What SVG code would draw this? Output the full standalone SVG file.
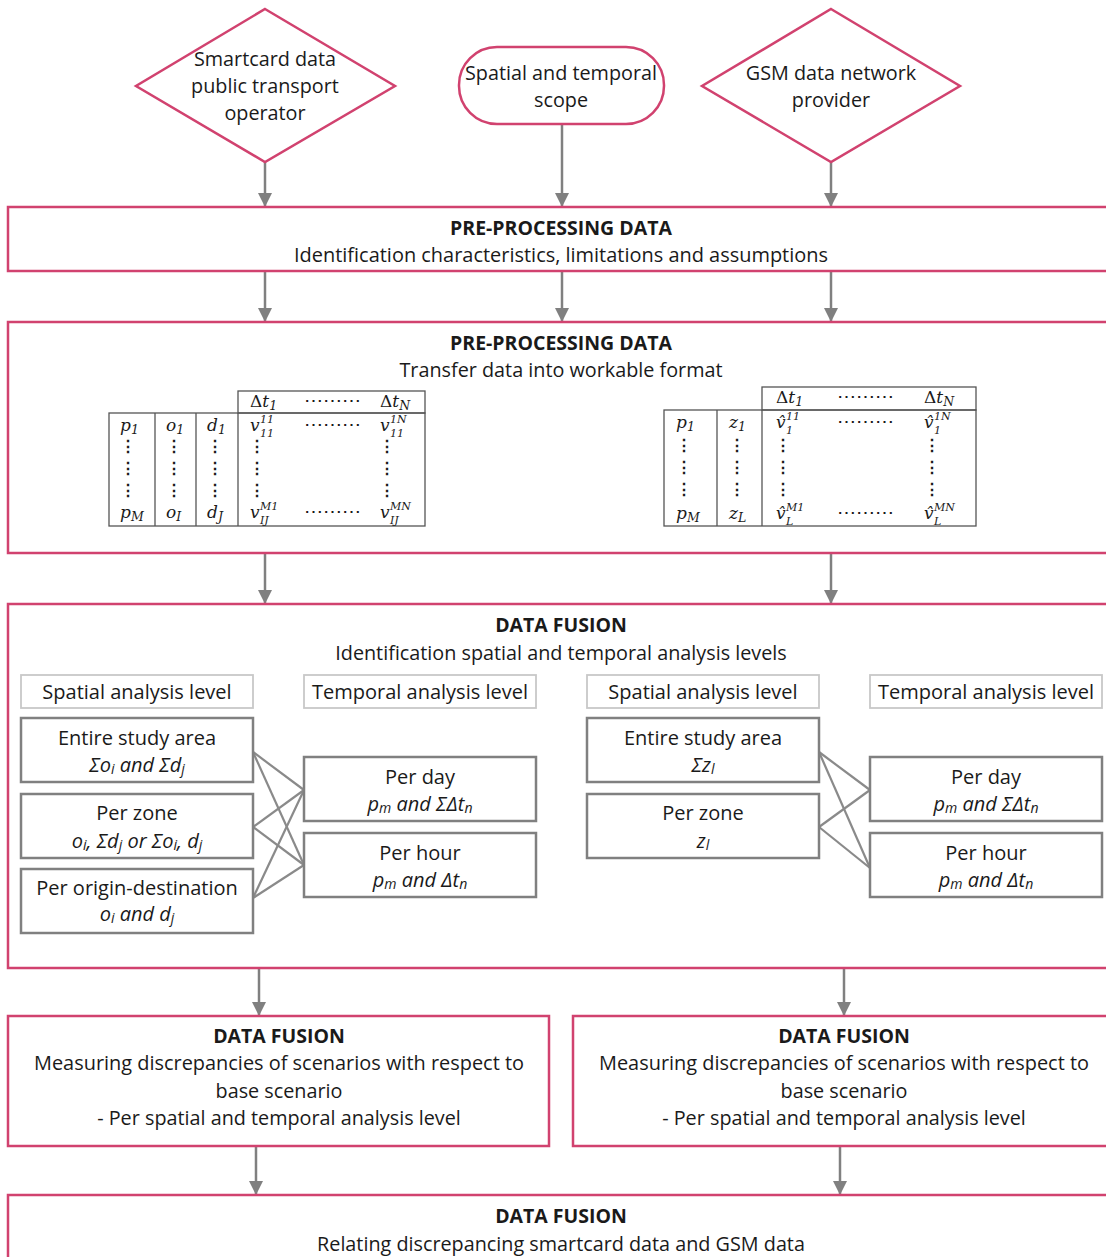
<svg xmlns="http://www.w3.org/2000/svg" width="1106" height="1257" viewBox="0 0 1106 1257">
<defs>
<marker id="ah" viewBox="0 0 14 14" refX="14" refY="7" markerWidth="14" markerHeight="14" markerUnits="userSpaceOnUse" orient="auto">
<path d="M0,0 L14,7 L0,14 z" fill="#808080"/>
</marker>
<style>
.pk{fill:#fff;stroke:#d1426f;stroke-width:2.5}
.gb{fill:#fff;stroke:#808080;stroke-width:2.5}
.hb{fill:#fff;stroke:#c8c8c8;stroke-width:1.8}
.ar{stroke:#808080;stroke-width:2.5;fill:none}
.cn{stroke:#8a8a8a;stroke-width:2.2;fill:none}
.tl{stroke:#555;stroke-width:1.3;fill:none}
text{font-family:"Open Sans","Noto Sans","Liberation Sans",sans-serif;fill:#1a1a1a;text-anchor:middle;dominant-baseline:central}
.t{font-size:19.8px}
.b{font-size:19.5px;font-weight:bold}
.i{font-size:20px;font-style:italic}
.sm{font-size:20px}
.m{font-family:"DejaVu Serif","Liberation Serif",serif;font-size:17px;font-style:italic;text-anchor:start;dominant-baseline:auto}
.d{font-family:"DejaVu Serif","Liberation Serif",serif;font-size:16px;font-weight:bold;text-anchor:start;dominant-baseline:auto}
.h{font-family:"DejaVu Serif","Liberation Serif",serif;font-size:19px;text-anchor:start;dominant-baseline:auto}
.s{font-size:12.5px}
.ss{font-size:11px}
.si{font-size:14px}
</style>
</defs>

<g id="connectors">
<line class="ar" x1="265" y1="162" x2="265" y2="207" marker-end="url(#ah)"/>
<line class="ar" x1="562" y1="124" x2="562" y2="207" marker-end="url(#ah)"/>
<line class="ar" x1="831" y1="162" x2="831" y2="207" marker-end="url(#ah)"/>
<line class="ar" x1="265" y1="272" x2="265" y2="322" marker-end="url(#ah)"/>
<line class="ar" x1="562" y1="272" x2="562" y2="322" marker-end="url(#ah)"/>
<line class="ar" x1="831" y1="272" x2="831" y2="322" marker-end="url(#ah)"/>
<line class="ar" x1="265" y1="554" x2="265" y2="604" marker-end="url(#ah)"/>
<line class="ar" x1="831" y1="554" x2="831" y2="604" marker-end="url(#ah)"/>
<line class="ar" x1="259" y1="969" x2="259" y2="1016" marker-end="url(#ah)"/>
<line class="ar" x1="844" y1="969" x2="844" y2="1016" marker-end="url(#ah)"/>
<line class="ar" x1="256" y1="1147" x2="256" y2="1195" marker-end="url(#ah)"/>
<line class="ar" x1="840" y1="1147" x2="840" y2="1195" marker-end="url(#ah)"/>
</g>

<g id="n-smartcard">
<polygon class="pk" points="265,9 395,86 265,162 136,86"/>
<text class="t" x="265" y="58">Smartcard data</text>
<text class="t" x="265" y="85">public transport</text>
<text class="t" x="265" y="112">operator</text>
</g>
<g id="n-scope">
<rect class="pk" x="459" y="47" width="205" height="77" rx="38"/>
<text class="t" x="561" y="72">Spatial and temporal</text>
<text class="t" x="561" y="99">scope</text>
</g>
<g id="n-gsm">
<polygon class="pk" points="831,9 960,86 831,162 702,86"/>
<text class="t" x="831" y="72">GSM data network</text>
<text class="t" x="831" y="99">provider</text>
</g>

<g id="n-pre1">
<rect class="pk" x="8" y="207" width="1110" height="64"/>
<text class="b" x="561" y="227">PRE-PROCESSING DATA</text>
<text class="t" x="561" y="254" textLength="534" lengthAdjust="spacingAndGlyphs">Identification characteristics, limitations and assumptions</text>
</g>

<g id="n-pre2">
<rect class="pk" x="8" y="322" width="1110" height="231"/>
<text class="b" x="561" y="342">PRE-PROCESSING DATA</text>
<text class="t" x="561" y="369">Transfer data into workable format</text>
</g>

<g id="table-left">
<rect class="tl" x="238" y="391" width="187" height="22"/>
<rect class="tl" x="109" y="413" width="316" height="113"/>
<line class="tl" x1="155" y1="413" x2="155" y2="526"/>
<line class="tl" x1="196" y1="413" x2="196" y2="526"/>
<line class="tl" x1="238" y1="413" x2="238" y2="526"/>
<text class="m" x="250" y="407"><tspan font-style="normal">Δ</tspan>t<tspan class="s" dy="3">1</tspan></text>
<text class="h" x="304" y="407">⋯⋯⋯</text>
<text class="m" x="380" y="407"><tspan font-style="normal">Δ</tspan>t<tspan class="s" dy="3">N</tspan></text>
<text class="m" x="120" y="431">p<tspan class="s" dy="3">1</tspan></text>
<text class="m" x="166" y="431">o<tspan class="s" dy="3">1</tspan></text>
<text class="m" x="207" y="431">d<tspan class="s" dy="3">1</tspan></text>
<text class="m" x="250" y="431">v<tspan class="ss" x="260" y="437">11</tspan><tspan class="ss" x="260" y="423">11</tspan></text>
<text class="h" x="304" y="431">⋯⋯⋯</text>
<text class="m" x="380" y="431">v<tspan class="ss" x="390" y="437">11</tspan><tspan class="ss" x="390" y="423">1N</tspan></text>
<text class="d" x="120" y="452">⋮</text><text class="d" x="120" y="474">⋮</text><text class="d" x="120" y="496">⋮</text>
<text class="d" x="166" y="452">⋮</text><text class="d" x="166" y="474">⋮</text><text class="d" x="166" y="496">⋮</text>
<text class="d" x="207" y="452">⋮</text><text class="d" x="207" y="474">⋮</text><text class="d" x="207" y="496">⋮</text>
<text class="d" x="249" y="452">⋮</text><text class="d" x="249" y="474">⋮</text><text class="d" x="249" y="496">⋮</text>
<text class="d" x="379" y="452">⋮</text><text class="d" x="379" y="474">⋮</text><text class="d" x="379" y="496">⋮</text>
<text class="m" x="120" y="518">p<tspan class="s" dy="3">M</tspan></text>
<text class="m" x="166" y="518">o<tspan class="s" dy="3">I</tspan></text>
<text class="m" x="207" y="518">d<tspan class="s" dy="3">J</tspan></text>
<text class="m" x="250" y="518">v<tspan class="ss" x="260" y="524">IJ</tspan><tspan class="ss" x="260" y="510">M1</tspan></text>
<text class="h" x="304" y="518">⋯⋯⋯</text>
<text class="m" x="380" y="518">v<tspan class="ss" x="390" y="524">IJ</tspan><tspan class="ss" x="390" y="510">MN</tspan></text>
</g>

<g id="table-right">
<rect class="tl" x="762" y="387" width="214" height="23"/>
<rect class="tl" x="664" y="410" width="312" height="116"/>
<line class="tl" x1="717" y1="410" x2="717" y2="526"/>
<line class="tl" x1="762" y1="410" x2="762" y2="526"/>
<text class="m" x="776" y="403"><tspan font-style="normal">Δ</tspan>t<tspan class="s" dy="3">1</tspan></text>
<text class="h" x="837" y="403">⋯⋯⋯</text>
<text class="m" x="924" y="403"><tspan font-style="normal">Δ</tspan>t<tspan class="s" dy="3">N</tspan></text>
<text class="m" x="676" y="428">p<tspan class="s" dy="3">1</tspan></text>
<text class="m" x="729" y="428">z<tspan class="s" dy="3">1</tspan></text>
<text class="m" x="776" y="428">v̂<tspan class="ss" x="786" y="434">1</tspan><tspan class="ss" x="786" y="420">11</tspan></text>
<text class="h" x="837" y="428">⋯⋯⋯</text>
<text class="m" x="924" y="428">v̂<tspan class="ss" x="934" y="434">1</tspan><tspan class="ss" x="934" y="420">1N</tspan></text>
<text class="d" x="676" y="451">⋮</text><text class="d" x="676" y="473">⋮</text><text class="d" x="676" y="495">⋮</text>
<text class="d" x="729" y="451">⋮</text><text class="d" x="729" y="473">⋮</text><text class="d" x="729" y="495">⋮</text>
<text class="d" x="775" y="451">⋮</text><text class="d" x="775" y="473">⋮</text><text class="d" x="775" y="495">⋮</text>
<text class="d" x="924" y="451">⋮</text><text class="d" x="924" y="473">⋮</text><text class="d" x="924" y="495">⋮</text>
<text class="m" x="676" y="519">p<tspan class="s" dy="3">M</tspan></text>
<text class="m" x="729" y="519">z<tspan class="s" dy="3">L</tspan></text>
<text class="m" x="776" y="519">v̂<tspan class="ss" x="786" y="525">L</tspan><tspan class="ss" x="786" y="511">M1</tspan></text>
<text class="h" x="837" y="519">⋯⋯⋯</text>
<text class="m" x="924" y="519">v̂<tspan class="ss" x="934" y="525">L</tspan><tspan class="ss" x="934" y="511">MN</tspan></text>
</g>

<g id="n-fusion1">
<rect class="pk" x="8" y="604" width="1110" height="364"/>
<text class="b" x="561" y="624">DATA FUSION</text>
<text class="t" x="561" y="652">Identification spatial and temporal analysis levels</text>
</g>

<g id="level-lines">
<line class="cn" x1="253" y1="752" x2="304" y2="790"/>
<line class="cn" x1="253" y1="752" x2="304" y2="865"/>
<line class="cn" x1="253" y1="827" x2="304" y2="790"/>
<line class="cn" x1="253" y1="827" x2="304" y2="865"/>
<line class="cn" x1="253" y1="898" x2="304" y2="790"/>
<line class="cn" x1="253" y1="898" x2="304" y2="865"/>
<line class="cn" x1="819" y1="752" x2="870" y2="790"/>
<line class="cn" x1="819" y1="752" x2="870" y2="868"/>
<line class="cn" x1="819" y1="827" x2="870" y2="790"/>
<line class="cn" x1="819" y1="827" x2="870" y2="868"/>
</g>

<g id="h-spatial-l"><rect class="hb" x="21" y="675" width="232" height="33"/><text class="sm" x="137" y="691">Spatial analysis level</text></g>
<g id="h-temporal-l"><rect class="hb" x="304" y="675" width="232" height="33"/><text class="sm" x="420" y="691">Temporal analysis level</text></g>
<g id="h-spatial-r"><rect class="hb" x="587" y="675" width="232" height="33"/><text class="sm" x="703" y="691">Spatial analysis level</text></g>
<g id="h-temporal-r"><rect class="hb" x="870" y="675" width="232" height="33"/><text class="sm" x="986" y="691">Temporal analysis level</text></g>

<g id="l-entire"><rect class="gb" x="21" y="718" width="232" height="64"/>
<text class="sm" x="137" y="737">Entire study area</text>
<text class="i" x="137" y="764">Σo<tspan class="si" dy="4">i</tspan><tspan dy="-4"> and Σd</tspan><tspan class="si" dy="4">j</tspan></text></g>
<g id="l-zone"><rect class="gb" x="21" y="794" width="232" height="64"/>
<text class="sm" x="137" y="812">Per zone</text>
<text class="i" x="137" y="840">o<tspan class="si" dy="4">i</tspan><tspan dy="-4">, Σd</tspan><tspan class="si" dy="4">j</tspan><tspan dy="-4"> or Σo</tspan><tspan class="si" dy="4">i</tspan><tspan dy="-4">, d</tspan><tspan class="si" dy="4">j</tspan></text></g>
<g id="l-od"><rect class="gb" x="21" y="869" width="232" height="64"/>
<text class="sm" x="137" y="887">Per origin-destination</text>
<text class="i" x="137" y="913">o<tspan class="si" dy="4">i</tspan><tspan dy="-4"> and d</tspan><tspan class="si" dy="4">j</tspan></text></g>
<g id="l-day"><rect class="gb" x="304" y="757" width="232" height="64"/>
<text class="sm" x="420" y="776">Per day</text>
<text class="i" x="420" y="803">p<tspan class="si" dy="4">m</tspan><tspan dy="-4"> and ΣΔt</tspan><tspan class="si" dy="4">n</tspan></text></g>
<g id="l-hour"><rect class="gb" x="304" y="833" width="232" height="64"/>
<text class="sm" x="420" y="852">Per hour</text>
<text class="i" x="420" y="879">p<tspan class="si" dy="4">m</tspan><tspan dy="-4"> and Δt</tspan><tspan class="si" dy="4">n</tspan></text></g>

<g id="r-entire"><rect class="gb" x="587" y="718" width="232" height="64"/>
<text class="sm" x="703" y="737">Entire study area</text>
<text class="i" x="703" y="764">Σz<tspan class="si" dy="4">l</tspan></text></g>
<g id="r-zone"><rect class="gb" x="587" y="794" width="232" height="64"/>
<text class="sm" x="703" y="812">Per zone</text>
<text class="i" x="703" y="840">z<tspan class="si" dy="4">l</tspan></text></g>
<g id="r-day"><rect class="gb" x="870" y="757" width="232" height="64"/>
<text class="sm" x="986" y="776">Per day</text>
<text class="i" x="986" y="803">p<tspan class="si" dy="4">m</tspan><tspan dy="-4"> and ΣΔt</tspan><tspan class="si" dy="4">n</tspan></text></g>
<g id="r-hour"><rect class="gb" x="870" y="833" width="232" height="64"/>
<text class="sm" x="986" y="852">Per hour</text>
<text class="i" x="986" y="879">p<tspan class="si" dy="4">m</tspan><tspan dy="-4"> and Δt</tspan><tspan class="si" dy="4">n</tspan></text></g>

<g id="n-fusion-left">
<rect class="pk" x="8" y="1016" width="541" height="130"/>
<text class="b" x="279" y="1035">DATA FUSION</text>
<text class="t" x="279" y="1062" textLength="490" lengthAdjust="spacingAndGlyphs">Measuring discrepancies of scenarios with respect to</text>
<text class="t" x="279" y="1090">base scenario</text>
<text class="t" x="279" y="1117">- Per spatial and temporal analysis level</text>
</g>
<g id="n-fusion-right">
<rect class="pk" x="573" y="1016" width="545" height="130"/>
<text class="b" x="844" y="1035">DATA FUSION</text>
<text class="t" x="844" y="1062" textLength="490" lengthAdjust="spacingAndGlyphs">Measuring discrepancies of scenarios with respect to</text>
<text class="t" x="844" y="1090">base scenario</text>
<text class="t" x="844" y="1117">- Per spatial and temporal analysis level</text>
</g>

<g id="n-fusion-final">
<rect class="pk" x="8" y="1195" width="1110" height="80"/>
<text class="b" x="561" y="1215">DATA FUSION</text>
<text class="t" x="561" y="1243">Relating discrepancing smartcard data and GSM data</text>
</g>
</svg>
